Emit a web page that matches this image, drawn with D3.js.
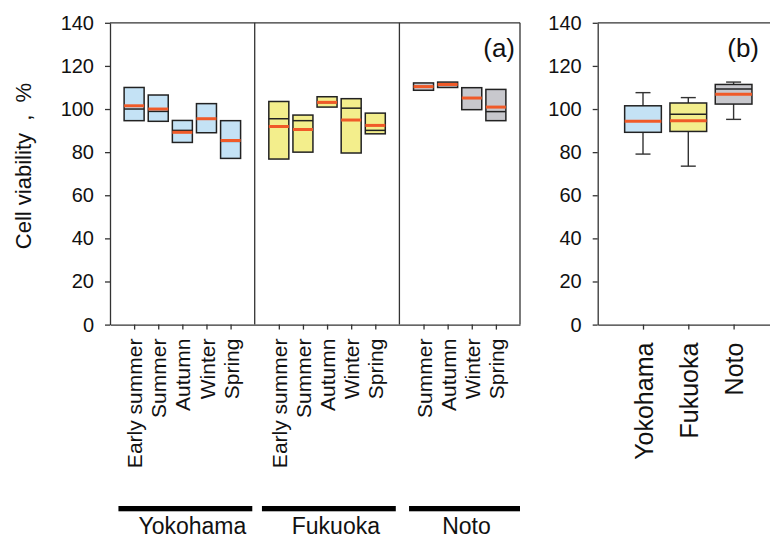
<!DOCTYPE html>
<html>
<head>
<meta charset="utf-8">
<script src="https://cdn.jsdelivr.net/npm/d3@7"></script>
<style>
  body { margin: 0; background: #fff; }
  svg text { font-family: "Liberation Sans", Arial, sans-serif; fill: #111; }
  .axis path, .axis line { stroke: #333; stroke-width: 1.3; }
</style>
</head>
<body>
<div id="chart"></div>
<script>
// panel (a) categories
var sites = ["Yokohama", "Fukuoka", "Noto"];
var yokoSeasons = ["Early summer", "Summer", "Autumn", "Winter", "Spring"];
var fukuSeasons = ["Early summer", "Summer", "Autumn", "Winter", "Spring"];
var notoSeasons = ["Summer", "Autumn", "Winter", "Spring"];

// box values per season: [q1, q3, median, mean]
var yokoBoxes = [[94.6, 110.0, 100.0, 101.5], [94.3, 106.5, 98.9, 100.0], [84.5, 94.7, 90.1, 89.2], [89.0, 102.5, 95.5, 95.5], [77.1, 94.6, 85.0, 85.4]];
var fukuBoxes = [[76.8, 103.5, 95.5, 91.9], [80.0, 97.2, 94.6, 90.5], [100.9, 105.7, 103.0, 103.1], [79.6, 104.8, 100.4, 94.9], [88.5, 98.1, 90.1, 92.4]];
var notoBoxes = [[108.7, 112.1, 110.4, 110.4], [110.0, 112.5, 111.4, 111.4], [99.7, 109.9, 105.1, 105.1], [94.6, 109.1, 98.8, 100.9]];

// panel (b): [min, q1, median, mean, q3, max]
var siteSummary = [[79.1, 89.2, 94.3, 94.3, 101.5, 107.6], [73.5, 89.6, 97.6, 94.6, 102.8, 105.3], [95.2, 102.3, 109.3, 106.8, 111.4, 112.5]];

var yTicks = [0, 20, 40, 60, 80, 100, 120, 140];
var fills = ["#c4e2f5", "#f3ee8c", "#c8c8cd"];
var meanColor = "#f05a28";

var svg = d3.select("#chart").append("svg")
    .attr("width", 770).attr("height", 541);

var top_y = 22.8, bot_y = 324.6;
var y = d3.scaleLinear().domain([0, 140]).range([bot_y, top_y]);

// ---------- panel (a) ----------
var ax0 = 110, ax1 = 520;
var xa = d3.scaleLinear().domain([0, 17]).range([ax0, ax1]);

// flatten categories onto slot indices, leaving a gap slot between sites
var groups = [
    { seasons: yokoSeasons, boxes: yokoBoxes, start: 1 },
    { seasons: fukuSeasons, boxes: fukuBoxes, start: 7 },
    { seasons: notoSeasons, boxes: notoBoxes, start: 13 }
];
var boxesA = [], tickIdx = [], tickLab = {};
groups.forEach(function(g, gi) {
    g.seasons.forEach(function(s, i) {
        var b = g.boxes[i];
        boxesA.push({ i: g.start + i, q1: b[0], q3: b[1], med: b[2], mean: b[3], fill: fills[gi] });
        tickIdx.push(g.start + i);
        tickLab[g.start + i] = s;
    });
});

var gA = svg.append("g");

gA.append("g").attr("class", "axis")
    .attr("transform", "translate(" + ax0 + ",0)")
    .call(d3.axisLeft(y).tickValues(yTicks).tickSize(5).tickSizeOuter(0).tickPadding(11))
    .selectAll("text").style("font-size", "20px");

var xAxA = gA.append("g").attr("class", "axis")
    .attr("transform", "translate(0," + bot_y + ")")
    .call(d3.axisBottom(xa).tickValues(tickIdx).tickSize(5).tickSizeOuter(0)
        .tickFormat(function(d) { return tickLab[d]; }));
xAxA.selectAll("text")
    .style("font-size", "21px")
    .attr("text-anchor", "end")
    .attr("transform", "rotate(-90)")
    .attr("x", -14).attr("y", 0).attr("dy", "0.36em");

// frame: top, right and dividers
gA.append("line").attr("x1", ax0).attr("x2", ax1).attr("y1", top_y).attr("y2", top_y)
    .attr("stroke", "#333").attr("stroke-width", 1.3);
[6, 12, 17].forEach(function(d) {
    gA.append("line").attr("x1", xa(d)).attr("x2", xa(d)).attr("y1", top_y).attr("y2", bot_y)
        .attr("stroke", "#333").attr("stroke-width", 1.3);
});

var bwA = 20;
var boxA = gA.selectAll(".boxa").data(boxesA).enter().append("g").attr("class", "boxa");
boxA.append("rect")
    .attr("x", function(d) { return xa(d.i) - bwA / 2; })
    .attr("y", function(d) { return y(d.q3); })
    .attr("width", bwA)
    .attr("height", function(d) { return y(d.q1) - y(d.q3); })
    .attr("fill", function(d) { return d.fill; })
    .attr("stroke", "#222").attr("stroke-width", 1.5);
boxA.append("line")
    .attr("x1", function(d) { return xa(d.i) - bwA / 2; })
    .attr("x2", function(d) { return xa(d.i) + bwA / 2; })
    .attr("y1", function(d) { return y(d.med); })
    .attr("y2", function(d) { return y(d.med); })
    .attr("stroke", "#222").attr("stroke-width", 1.5);
boxA.append("line")
    .attr("x1", function(d) { return xa(d.i) - bwA / 2; })
    .attr("x2", function(d) { return xa(d.i) + bwA / 2; })
    .attr("y1", function(d) { return y(d.mean); })
    .attr("y2", function(d) { return y(d.mean); })
    .attr("stroke", meanColor).attr("stroke-width", 3);

gA.append("text").attr("x", 515).attr("y", 57)
    .attr("text-anchor", "end").style("font-size", "26px").text("(a)");

// site bars below
var siteSpan = [[0.35, 5.9], [6.3, 11.85], [12.4, 17]];
sites.forEach(function(s, i) {
    var x0 = xa(siteSpan[i][0]), x1 = xa(siteSpan[i][1]);
    gA.append("rect").attr("x", x0).attr("y", 506).attr("width", x1 - x0).attr("height", 5.3)
        .attr("fill", "#000");
    gA.append("text").attr("x", (x0 + x1) / 2 + (i < 2 ? 7 : 2)).attr("y", 534)
        .attr("text-anchor", "middle").style("font-size", "23px").text(s);
});

// y title
svg.append("text")
    .attr("transform", "translate(31,166) rotate(-90)")
    .attr("text-anchor", "middle")
    .style("font-size", "22px")
    .style("white-space", "pre")
    .text("Cell viability  ,  %");

// ---------- panel (b) ----------
var bx0 = 597.7;
var xb = d3.scaleLinear().domain([0, 4]).range([bx0, bx0 + 4 * 45.3]);

var gB = svg.append("g");
gB.append("g").attr("class", "axis")
    .attr("transform", "translate(" + bx0 + ",0)")
    .call(d3.axisLeft(y).tickValues(yTicks).tickSize(5).tickSizeOuter(0).tickPadding(11))
    .selectAll("text").style("font-size", "20px");

var xAxB = gB.append("g").attr("class", "axis")
    .attr("transform", "translate(0," + bot_y + ")")
    .call(d3.axisBottom(xb).tickValues([1, 2, 3]).tickSize(5).tickSizeOuter(0)
        .tickFormat(function(d) { return sites[d - 1]; }));
xAxB.selectAll("text")
    .style("font-size", "25px")
    .attr("text-anchor", "end")
    .attr("transform", "rotate(-90)")
    .attr("x", -18).attr("y", 0).attr("dy", "0.36em");

gB.append("line").attr("x1", bx0).attr("x2", 770).attr("y1", top_y).attr("y2", top_y)
    .attr("stroke", "#333").attr("stroke-width", 1.3);

var bwB = 36.7, capW = 15;
var boxB = gB.selectAll(".boxb").data(siteSummary).enter().append("g").attr("class", "boxb");
boxB.append("line")
    .attr("x1", function(d, i) { return xb(i + 1); })
    .attr("x2", function(d, i) { return xb(i + 1); })
    .attr("y1", function(d) { return y(d[0]); })
    .attr("y2", function(d) { return y(d[5]); })
    .attr("stroke", "#333").attr("stroke-width", 1.4);
[0, 5].forEach(function(k) {
    boxB.append("line")
        .attr("x1", function(d, i) { return xb(i + 1) - capW / 2; })
        .attr("x2", function(d, i) { return xb(i + 1) + capW / 2; })
        .attr("y1", function(d) { return y(d[k]); })
        .attr("y2", function(d) { return y(d[k]); })
        .attr("stroke", "#333").attr("stroke-width", 1.4);
});
boxB.append("rect")
    .attr("x", function(d, i) { return xb(i + 1) - bwB / 2; })
    .attr("y", function(d) { return y(d[4]); })
    .attr("width", bwB)
    .attr("height", function(d) { return y(d[1]) - y(d[4]); })
    .attr("fill", function(d, i) { return fills[i]; })
    .attr("stroke", "#222").attr("stroke-width", 1.5);
boxB.append("line")
    .attr("x1", function(d, i) { return xb(i + 1) - bwB / 2; })
    .attr("x2", function(d, i) { return xb(i + 1) + bwB / 2; })
    .attr("y1", function(d) { return y(d[2]); })
    .attr("y2", function(d) { return y(d[2]); })
    .attr("stroke", "#222").attr("stroke-width", 1.5);
boxB.append("line")
    .attr("x1", function(d, i) { return xb(i + 1) - bwB / 2; })
    .attr("x2", function(d, i) { return xb(i + 1) + bwB / 2; })
    .attr("y1", function(d) { return y(d[3]); })
    .attr("y2", function(d) { return y(d[3]); })
    .attr("stroke", meanColor).attr("stroke-width", 3);

gB.append("text").attr("x", 759).attr("y", 57)
    .attr("text-anchor", "end").style("font-size", "26px").text("(b)");
</script>
</body>
</html>
